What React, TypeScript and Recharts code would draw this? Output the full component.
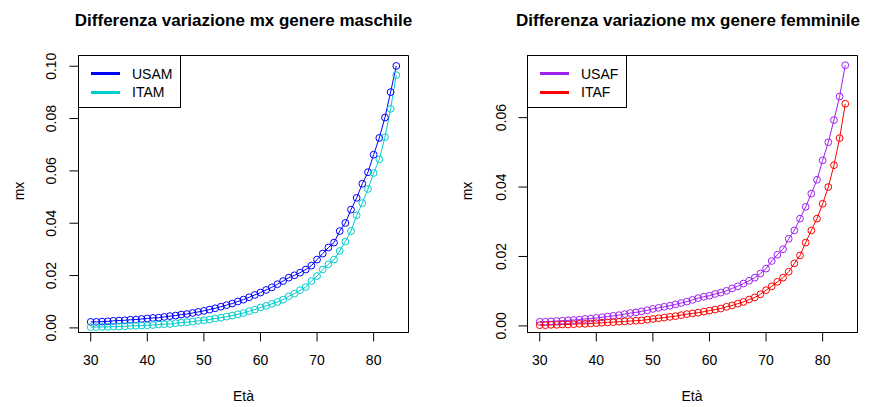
import React from "react";
import { LineChart, Line, XAxis, YAxis, ReferenceArea } from "recharts";

const AGES = [
  30, 31, 32, 33, 34, 35, 36, 37, 38, 39, 40, 41, 42, 43, 44, 45, 46, 47, 48, 49,
  50, 51, 52, 53, 54, 55, 56, 57, 58, 59, 60, 61, 62, 63, 64, 65, 66, 67, 68, 69,
  70, 71, 72, 73, 74, 75, 76, 77, 78, 79, 80, 81, 82, 83, 84,
];

const USAM = [
  0.0023, 0.0023, 0.0024, 0.0025, 0.0027,
  0.0028, 0.0029, 0.0031, 0.0032, 0.0034,
  0.0036, 0.0038, 0.0039, 0.0042, 0.0045,
  0.0047, 0.0051, 0.0053, 0.0057, 0.0061,
  0.0065, 0.007, 0.0075, 0.0081, 0.0087,
  0.0093, 0.0101, 0.0108, 0.0117, 0.0126,
  0.0135, 0.0145, 0.0155, 0.0167, 0.0179,
  0.0192, 0.0201, 0.0211, 0.0223, 0.0238,
  0.0261, 0.0284, 0.0307, 0.0326, 0.037,
  0.0401, 0.0452, 0.0497, 0.0551, 0.0595,
  0.0662, 0.0726, 0.0804, 0.0901, 0.1001,
];

const ITAM = [
  0.0003, 0.0003, 0.0004, 0.0004, 0.0005,
  0.0005, 0.0006, 0.0008, 0.0008, 0.0009,
  0.001, 0.0011, 0.0013, 0.0014, 0.0015,
  0.0018, 0.002, 0.0022, 0.0024, 0.0027,
  0.0029, 0.0032, 0.0036, 0.0039, 0.0043,
  0.0047, 0.0052, 0.0057, 0.0064, 0.007,
  0.0078, 0.0084, 0.0092, 0.0099, 0.0108,
  0.0121, 0.0131, 0.0144, 0.0156, 0.0179,
  0.0198, 0.0223, 0.0243, 0.0261, 0.0294,
  0.033, 0.037, 0.043, 0.0477, 0.0531,
  0.0592, 0.0644, 0.0729, 0.0837, 0.0966,
];

const USAF = [
  0.0012, 0.0012, 0.0013, 0.0014, 0.0015,
  0.0016, 0.0017, 0.0018, 0.002, 0.0021,
  0.0023, 0.0025, 0.0027, 0.0029, 0.0031,
  0.0034, 0.0037, 0.0039, 0.0042, 0.0045,
  0.0049, 0.0052, 0.0055, 0.0058, 0.0062,
  0.0066, 0.007, 0.0075, 0.008, 0.0084,
  0.0087, 0.0092, 0.0096, 0.0101, 0.0108,
  0.0114, 0.0122, 0.013, 0.0139, 0.0151,
  0.0165, 0.0187, 0.0205, 0.0221, 0.0251,
  0.0275, 0.0309, 0.0343, 0.0381, 0.0421,
  0.0477, 0.0529, 0.0593, 0.0661, 0.0751,
];

const ITAF = [
  0.0002, 0.0002, 0.0003, 0.0003, 0.0004,
  0.0004, 0.0005, 0.0006, 0.0006, 0.0007,
  0.0008, 0.0009, 0.001, 0.0011, 0.0012,
  0.0013, 0.0014, 0.0015, 0.0016, 0.0018,
  0.002, 0.0022, 0.0024, 0.0026, 0.0028,
  0.0031, 0.0034, 0.0036, 0.0038, 0.0041,
  0.0044, 0.0047, 0.005, 0.0055, 0.0059,
  0.0064, 0.0069, 0.0076, 0.0082, 0.0091,
  0.0103, 0.0114, 0.0127, 0.0139, 0.0156,
  0.018, 0.0203, 0.024, 0.0275, 0.0309,
  0.0352, 0.04, 0.0463, 0.0541, 0.064,
];

const X_TICKS = [30, 40, 50, 60, 70, 80];
const Y_TICKS_M = [0, 0.02, 0.04, 0.06, 0.08, 0.1];
const Y_TICKS_F = [0, 0.02, 0.04, 0.06];

const TITLE_M = "Differenza variazione mx genere maschile";
const TITLE_F = "Differenza variazione mx genere femminile";
const X_LABEL = "Età";
const Y_LABEL = "mx";

const FONT = "'Liberation Sans', Arial, Helvetica, sans-serif";

const COLORS = {
  USAM: "#0000FF",
  ITAM: "#00CDCD",
  USAF: "#A020F0",
  ITAF: "#FF0000",
};

const dataM = AGES.map((a, i) => ({ age: a, USAM: USAM[i], ITAM: ITAM[i] }));
const dataF = AGES.map((a, i) => ({ age: a, USAF: USAF[i], ITAF: ITAF[i] }));

const X_DOMAIN: [number, number] = [27.84, 86.16];

function makeYTick(cx: number) {
  return (props: any) => {
    const { y, payload } = props;
    return (
      <text
        x={cx}
        y={y}
        transform={`rotate(-90 ${cx} ${y})`}
        textAnchor="middle"
        dominantBaseline="central"
        fontSize={14}
        fontFamily={FONT}
        fill="#000"
      >
        {Number(payload.value).toFixed(2)}
      </text>
    );
  };
}

const XTick = (props: any) => {
  const { x, payload } = props;
  return (
    <text
      x={x}
      y={360}
      textAnchor="middle"
      dominantBaseline="central"
      fontSize={14}
      fontFamily={FONT}
      fill="#000"
    >
      {payload.value}
    </text>
  );
};

type PanelProps = {
  left: number;
  width: number;
  plotLeft: number;
  data: any[];
  keys: string[];
  yDomain: [number, number];
  yTicks: number[];
  tickCx: number;
};

function Panel({ left, width, plotLeft, data, keys, yDomain, yTicks, tickCx }: PanelProps) {
  const plotWidth = 330;
  const top = 55.5;
  const bottom = 332.5;
  return (
    <div style={{ position: "absolute", left, top: 0 }}>
      <LineChart
        width={width}
        height={407}
        data={data}
        margin={{ top, right: width - plotLeft - plotWidth, bottom: 0, left: 0 }}
      >
        <XAxis
          dataKey="age"
          type="number"
          domain={X_DOMAIN}
          ticks={X_TICKS}
          allowDataOverflow
          height={407 - bottom}
          tickSize={9}
          tickLine={{ stroke: "#000" }}
          axisLine={{ stroke: "#000" }}
          tick={XTick}
          interval={0}
        />
        <YAxis
          type="number"
          domain={yDomain}
          ticks={yTicks}
          allowDataOverflow
          width={plotLeft}
          tickSize={9}
          tickLine={{ stroke: "#000" }}
          axisLine={{ stroke: "#000" }}
          tick={makeYTick(tickCx)}
          interval={0}
        />
        <ReferenceArea
          x1={X_DOMAIN[0]}
          x2={X_DOMAIN[1]}
          y1={yDomain[0]}
          y2={yDomain[1]}
          fill="none"
          fillOpacity={0}
          stroke="#000"
          strokeWidth={1}
          ifOverflow="visible"
        />
        {keys.map((k) => (
          <Line
            key={k}
            type="linear"
            dataKey={k}
            stroke={(COLORS as any)[k]}
            strokeWidth={1}
            dot={{ r: 3.4, fill: "none", stroke: (COLORS as any)[k], strokeWidth: 1 }}
            activeDot={false}
            isAnimationActive={false}
          />
        ))}
      </LineChart>
    </div>
  );
}

function LegendBox({
  left,
  width,
  items,
  lineX,
  textX,
}: {
  left: number;
  width: number;
  items: string[];
  lineX: number;
  textX: number;
}) {
  return (
    <div
      style={{
        position: "absolute",
        left,
        top: 55,
        width,
        height: 53,
        border: "1px solid #000",
        background: "#fff",
        boxSizing: "border-box",
        fontFamily: FONT,
        fontSize: 14,
      }}
    >
      {items.map((it, i) => (
        <React.Fragment key={it}>
          <div
            style={{
              position: "absolute",
              left: lineX,
              top: 16 + i * 18.5,
              width: 29,
              height: 3,
              background: (COLORS as any)[it],
            }}
          />
          <div
            style={{
              position: "absolute",
              left: textX,
              top: 17.5 + i * 18.5,
              lineHeight: "0px",
              whiteSpace: "nowrap",
              color: "#000",
            }}
          >
            {it}
          </div>
        </React.Fragment>
      ))}
    </div>
  );
}

function Text({
  x,
  y,
  children,
  bold,
  size,
  rotate,
}: {
  x: number;
  y: number;
  children: React.ReactNode;
  bold?: boolean;
  size: number;
  rotate?: boolean;
}) {
  return (
    <div
      style={{
        position: "absolute",
        left: x,
        top: y,
        transform: `translate(-50%, -50%)${rotate ? " rotate(-90deg)" : ""}`,
        fontFamily: FONT,
        fontSize: size,
        fontWeight: bold ? "bold" : "normal",
        whiteSpace: "nowrap",
        lineHeight: 1,
        color: "#000",
      }}
    >
      {children}
    </div>
  );
}

export default function App() {
  return (
    <div
      style={{
        position: "absolute",
        left: 0,
        top: 0,
        width: 871,
        height: 407,
        background: "#fff",
        overflow: "hidden",
      }}
    >
      <Panel
        left={0}
        width={436}
        plotLeft={78.5}
        data={dataM}
        keys={["USAM", "ITAM"]}
        yDomain={[-0.00176, 0.1041]}
        yTicks={Y_TICKS_M}
        tickCx={51}
      />
      <Panel
        left={436}
        width={435}
        plotLeft={91.5}
        data={dataF}
        keys={["USAF", "ITAF"]}
        yDomain={[-0.0019, 0.0779]}
        yTicks={Y_TICKS_F}
        tickCx={65}
      />
      <LegendBox left={78} width={103} items={["USAM", "ITAM"]} lineX={12} textX={53} />
      <LegendBox left={527} width={100} items={["USAF", "ITAF"]} lineX={12} textX={53} />
      <Text x={243.5} y={20} bold size={17}>{TITLE_M}</Text>
      <Text x={688} y={20} bold size={17}>{TITLE_F}</Text>
      <Text x={243.5} y={396} size={14}>{X_LABEL}</Text>
      <Text x={692} y={396} size={14}>{X_LABEL}</Text>
      <Text x={18.5} y={191} size={14} rotate>{Y_LABEL}</Text>
      <Text x={467} y={191} size={14} rotate>{Y_LABEL}</Text>
    </div>
  );
}
